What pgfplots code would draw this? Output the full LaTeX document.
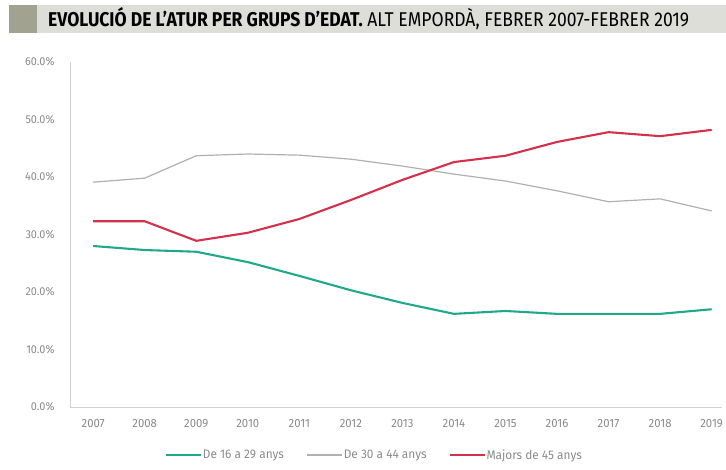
\documentclass[border=0pt]{standalone}
\usepackage{pgfplots}
\pgfplotsset{compat=1.18}
\usepackage{fontspec}
\setmainfont{Fira Sans}
\newfontfamily\tickfont[FakeStretch=0.95]{Fira Sans}
\newfontfamily\titlefont[FakeStretch=0.88]{Fira Sans}
\definecolor{teal1}{HTML}{1FA88A}
\definecolor{red1}{HTML}{D5304B}
\definecolor{grey1}{HTML}{B0B0B0}
\definecolor{band}{HTML}{DEDED8}
\definecolor{squar}{HTML}{A2A291}
\definecolor{ticktxt}{HTML}{8A8A8A}
\begin{document}
\begin{tikzpicture}
\path[use as bounding box] (0bp,0bp) rectangle (726bp,-470bp);
\fill[band] (37bp,-5bp) rectangle (726bp,-33bp);
\fill[squar] (9bp,-5bp) rectangle (37bp,-33bp);
\node[anchor=west,inner sep=0pt] at (48bp,-19bp) {\titlefont\fontsize{20}{22}\selectfont\textbf{EVOLUCIÓ DE L’ATUR PER GRUPS D’EDAT.} ALT EMPORDÀ, FEBRER 2007-FEBRER 2019};
\begin{axis}[
  at={(70bp,-407bp)}, anchor=south west,
  scale only axis, width=652bp, height=345bp,
  xmin=2006.55, xmax=2019.2, ymin=0, ymax=60,
  axis x line=bottom, axis y line=left,
  axis line style={draw=black!18, -},
  xtick={2007,...,2019}, ytick={0,10,...,60},
  major tick length=0pt,
  xticklabel style={/pgf/number format/1000 sep=, font=\tickfont\fontsize{12}{13}\selectfont, text=ticktxt, yshift=-9bp},
  yticklabel={\pgfmathprintnumber[fixed,fixed zerofill,precision=1]{\tick}\%},
  yticklabel style={font=\tickfont\fontsize{11.5}{13}\selectfont, text=ticktxt, xshift=-12bp},
  /pgf/number format/assume math mode=true,
  legend style={at={(0.466,-0.139)}, anchor=center, draw=none, fill=none,
    font=\tickfont\fontsize{12.5}{13}\selectfont, text=ticktxt,
    nodes={inner xsep=1bp},
    /tikz/every even column/.append style={column sep=21bp}},
  legend columns=3,
  legend image code/.code={\draw[#1, line width=2pt] (0bp,0bp) -- (35bp,0bp);},
]
\addplot[teal1, line width=2.1pt] coordinates {
(2007,28.0) (2008,27.3) (2009,27.0) (2010,25.2) (2011,22.8) (2012,20.3) (2013,18.1)
(2014,16.2) (2015,16.7) (2016,16.2) (2017,16.2) (2018,16.2) (2019,17.0)};
\addlegendentry{De 16 a 29 anys}
\addplot[grey1, line width=1.2pt] coordinates {
(2007,39.1) (2008,39.8) (2009,43.7) (2010,44.0) (2011,43.8) (2012,43.1) (2013,41.9)
(2014,40.5) (2015,39.3) (2016,37.6) (2017,35.7) (2018,36.2) (2019,34.1)};
\addlegendentry{De 30 a 44 anys}
\addplot[red1, line width=2.1pt] coordinates {
(2007,32.3) (2008,32.3) (2009,28.9) (2010,30.3) (2011,32.7) (2012,36.0) (2013,39.5)
(2014,42.6) (2015,43.7) (2016,46.1) (2017,47.8) (2018,47.1) (2019,48.2)};
\addlegendentry{Majors de 45 anys}
\end{axis}
\end{tikzpicture}
\end{document}
